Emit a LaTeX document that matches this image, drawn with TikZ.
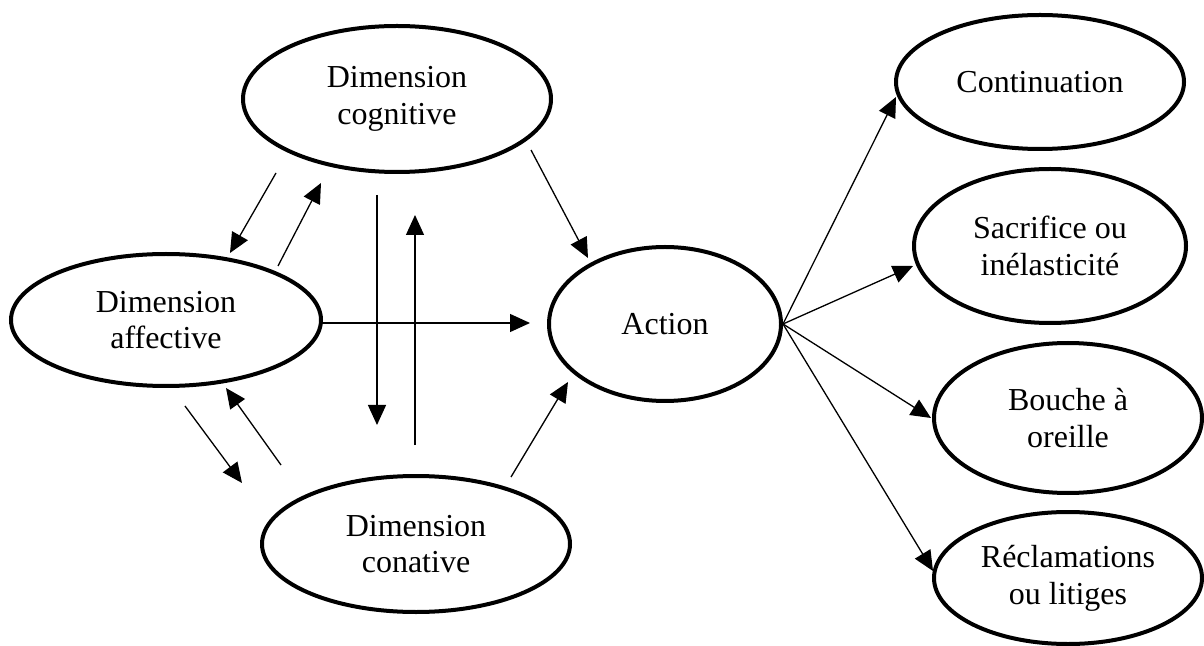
\documentclass[tikz,border=0pt]{standalone}
\usepackage{fontspec}
\setmainfont{Liberation Serif}
\usetikzlibrary{arrows.meta,shapes.geometric}
\begin{document}
\begin{tikzpicture}[x=0.5pt,y=-0.5pt,
  oval/.style={draw, ellipse, line width=2pt, inner sep=0pt, align=center,
    font=\fontsize{16pt}{18.4pt}\selectfont},
  conn/.style={line width=0.65pt, -{Triangle[length=10pt,width=9pt]}}]
\useasboundingbox (0,0) rectangle (1204,646);
\fill[white] (0,0) rectangle (1204,646);
% nodes
\node[oval, minimum width=154pt, minimum height=73pt] (cog) at (397,99) {Dimension\\cognitive};
\node[oval, minimum width=155pt, minimum height=66pt] (aff) at (166,320) {Dimension\\affective};
\node[oval, minimum width=154pt, minimum height=68pt] (con) at (416,544) {Dimension\\conative};
\node[oval, minimum width=116pt, minimum height=77pt] (act) at (665,324) {Action};
\node[oval, minimum width=144pt, minimum height=67pt] (cont) at (1040,82) {Continuation};
\node[oval, minimum width=136pt, minimum height=77pt] (sac) at (1050,246) {Sacrifice ou\\inélasticité};
\node[oval, minimum width=134pt, minimum height=75pt] (bou) at (1068,418) {Bouche à\\oreille};
\node[oval, minimum width=134pt, minimum height=66pt] (rec) at (1068,578) {Réclamations\\ou litiges};
% free ends
\coordinate (cogA1) at (276,173);  \coordinate (affT1) at (230,253);
\coordinate (affA2) at (278,266);  \coordinate (cogT2) at (321,183);
\coordinate (cogA3) at (377,195);  \coordinate (conT3) at (377,425);
\coordinate (conA4) at (415,445);  \coordinate (cogT4) at (415,215);
\coordinate (affA5) at (321,323);  \coordinate (actT5) at (530,323);
\coordinate (cogA6) at (531,150);  \coordinate (actT6) at (588,258);
\coordinate (conA7) at (511,477);  \coordinate (actT7) at (568,382);
\coordinate (affA8) at (185,406);  \coordinate (conT8) at (242,483);
\coordinate (conA9) at (281,465);  \coordinate (affT9) at (226,388);
\coordinate (contT) at (896,97);
\coordinate (sacT) at (913,266);
\coordinate (bouT) at (931,418);
\coordinate (recT) at (933,571);
% connectors
\draw[conn] (cogA1) -- (affT1);
\draw[conn] (affA2) -- (cogT2);
\draw[conn] (cogA3) -- (conT3);
\draw[conn] (conA4) -- (cogT4);
\draw[conn] (affA5) -- (actT5);
\draw[conn] (cogA6) -- (actT6);
\draw[conn] (conA7) -- (actT7);
\draw[conn] (affA8) -- (conT8);
\draw[conn] (conA9) -- (affT9);
\draw[conn] (act.east) -- (contT);
\draw[conn] (act.east) -- (sacT);
\draw[conn] (act.east) -- (bouT);
\draw[conn] (act.east) -- (recT);
\end{tikzpicture}
\end{document}
